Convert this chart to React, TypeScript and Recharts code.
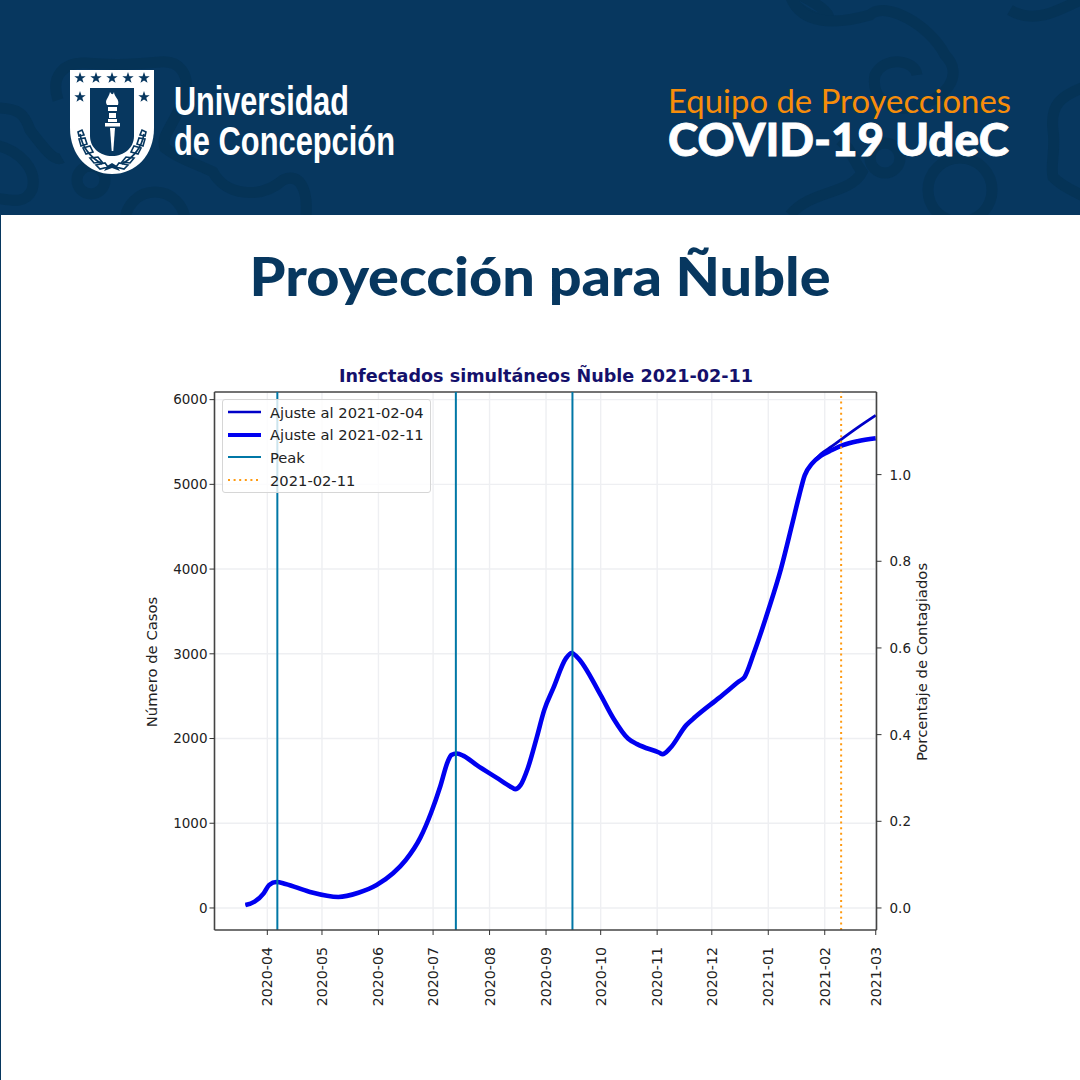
import {
  CartesianGrid,
  ComposedChart,
  Legend,
  Line,
  ReferenceLine,
  XAxis,
  YAxis,
} from 'recharts';

const NAVY = '#07375f';
const ORNAMENT = '#053356';
const FONT = '"DejaVu Sans", sans-serif';

const dates = [
  '2020-03-20', '2020-03-25', '2020-03-30', '2020-04-02', '2020-04-06', '2020-04-11',
  '2020-04-24', '2020-05-10', '2020-05-21', '2020-05-31', '2020-06-09', '2020-06-16',
  '2020-06-24', '2020-06-30', '2020-07-05', '2020-07-09', '2020-07-11', '2020-07-14',
  '2020-07-18', '2020-07-25', '2020-08-05', '2020-08-13', '2020-08-15', '2020-08-18',
  '2020-08-22', '2020-08-27', '2020-08-31', '2020-09-05', '2020-09-12', '2020-09-15',
  '2020-09-18', '2020-10-01', '2020-10-08', '2020-10-16', '2020-10-21', '2020-11-02',
  '2020-11-04', '2020-11-08', '2020-11-17', '2020-11-22', '2020-12-05', '2020-12-16',
  '2020-12-19', '2020-12-24', '2021-01-01', '2021-01-08', '2021-01-14', '2021-01-18',
  '2021-01-21', '2021-01-25', '2021-01-30', '2021-02-05', '2021-02-11', '2021-02-19',
  '2021-03-01',
];

const fit0204 = [
  35, 75, 173, 271, 306, 283,
  192, 130, 180, 271, 409, 566,
  830, 1130, 1440, 1725, 1805, 1824,
  1792, 1686, 1535, 1425, 1403, 1450,
  1650, 2020, 2335, 2594, 2948, 3010,
  2963, 2512, 2237, 2000, 1934, 1835,
  1816, 1883, 2158, 2256, 2480, 2675,
  2727, 3003, 3514, 4006, 4520, 4870,
  5106, 5244, 5360, 5450, 5546, 5670,
  5815,
];

const fit0211 = [
  35, 75, 173, 271, 306, 283,
  192, 130, 180, 271, 409, 566,
  830, 1130, 1440, 1725, 1805, 1824,
  1792, 1686, 1535, 1425, 1403, 1450,
  1650, 2020, 2335, 2594, 2948, 3010,
  2963, 2512, 2237, 2000, 1934, 1835,
  1816, 1883, 2158, 2256, 2480, 2675,
  2727, 3003, 3514, 4006, 4520, 4870,
  5106, 5244, 5338, 5405, 5463, 5510,
  5545,
];

const peakDates = ['2020-04-06T12:00Z', '2020-07-13T12:00Z', '2020-09-15T12:00Z'];
const cutLabel = '2021-02-11';
const cutDate = '2021-02-10';

const monthTicks = [
  '2020-04-01', '2020-05-01', '2020-06-01', '2020-07-01', '2020-08-01', '2020-09-01',
  '2020-10-01', '2020-11-01', '2020-12-01', '2021-01-01', '2021-02-01', '2021-03-01',
];
const caseTicks = [0, 1000, 2000, 3000, 4000, 5000, 6000];
const shareTicks = [0, 0.2, 0.4, 0.6, 0.8, 1];

const legendItems = [
  { label: 'Ajuste al 2021-02-04', color: '#0000c8', width: 2.5, dash: '' },
  { label: 'Ajuste al 2021-02-11', color: '#0000f0', width: 4, dash: '' },
  { label: 'Peak', color: '#0077a6', width: 2, dash: '' },
  { label: cutLabel, color: '#ff9a10', width: 2, dash: '2 3.6' },
];

const casesPerUnit = 5115;
const caseMin = -260;
const caseMax = 6090;

const toTime = (d: string) => Date.parse(d);

const table = dates.map((d, i) => ({
  time: toTime(d),
  fit0204: fit0204[i],
  fit0211: fit0211[i],
}));

const DateTick = ({ x, y, payload }: any) => (
  <text
    transform={`translate(${x + 5},${y + 10}) rotate(-90)`}
    textAnchor="end"
    fontFamily={FONT}
    fontSize={14.2}
    fill="#222"
  >
    {new Date(payload.value).toISOString().slice(0, 7)}
  </text>
);

const ShareTick = ({ x, y, payload }: any) => (
  <text x={x + 6} y={y + 5} fontFamily={FONT} fontSize={13.5} fill="#222">
    {payload.value.toFixed(1)}
  </text>
);

const ChartLegend = () => (
  <div
    style={{
      width: 209,
      height: 94,
      boxSizing: 'border-box',
      padding: '1px 0 0 5px',
      background: 'rgba(255,255,255,0.8)',
      border: '1px solid #d6d6d6',
      borderRadius: 3,
      fontFamily: FONT,
      fontSize: 14.7,
      color: '#222',
    }}
  >
    {legendItems.map((item) => (
      <div key={item.label} style={{ height: 22.6, display: 'flex', alignItems: 'center' }}>
        <svg width={42} height={10} style={{ flex: 'none' }}>
          <line
            x1={0}
            x2={33}
            y1={5}
            y2={5}
            stroke={item.color}
            strokeWidth={item.width}
            strokeDasharray={item.dash}
          />
        </svg>
        {item.label}
      </div>
    ))}
  </div>
);

const Star = ({ x, y }: { x: number; y: number }) => (
  <polygon
    transform={`translate(${x},${y}) scale(6)`}
    points="0,-1 0.24,-0.31 0.95,-0.31 0.38,0.12 0.59,0.81 0,0.4 -0.59,0.81 -0.38,0.12 -0.95,-0.31 -0.24,-0.31"
    fill={NAVY}
  />
);

const Leaves = () => (
  <g fill="none" stroke={NAVY} strokeWidth={1.6}>
    <path d="M78 132 l4 -2 l2 5 l-5 1 Z M79 139 l6 -1 l2 6 l-6 2 Z M83 148 l7 -2 l3 6 l-7 2 Z" />
    <path d="M80 134 C82 146 90 157 102 164" />
    <path d="M90 158 l8 -1 l4 5 l-8 1 Z M96 165 l9 -2 l3 4 l-8 2 Z" />
  </g>
);

const Shield = () => (
  <g>
    <path d="M70 70 H154 V128 C154 155 136 174 112 174 C88 174 70 155 70 128 Z" fill="#fff" />
    <path d="M90 88 H134 V136 C134 148 124 156 112 156 C100 156 90 148 90 136 Z" fill={NAVY} />
    {[80, 96, 112, 128, 144].map((x) => (
      <Star key={x} x={x} y={78} />
    ))}
    <Star x={80} y={97} />
    <Star x={144} y={97} />
    <path d="M107 105 C104 100 109 98 110 92 C112 95 113 95 114 92 C114 97 120 99 118 105 Z" fill="#fff" />
    <path d="M108 107 H117 V111 H108 Z M109 113 H116 V118 H109 Z M108 119 H117 V122 H108 Z" fill="#fff" />
    <rect x={105} y={123} width={15} height={3.5} fill="#fff" />
    <path d="M110 128 H115 L113.3 151 H111.7 Z" fill="#fff" />
    <Leaves />
    <g transform="translate(224,0) scale(-1,1)">
      <Leaves />
    </g>
    <path d="M107 166 L112 163 L117 166 L120 171 L112 168 L104 171 Z" fill={NAVY} />
  </g>
);

const Banner = () => (
  <svg width={1080} height={215} style={{ position: 'absolute', left: 0, top: 0 }}>
    <rect width={1080} height={215} fill={NAVY} />
    <g fill="none" stroke={ORNAMENT} strokeWidth={11}>
      <path d="M-5 108 C20 108 25 115 30 130 C45 150 55 162 62 158 M-5 145 C20 150 38 170 32 190 C25 205 10 200 -5 198" />
      <circle cx={91} cy={180} r={14} />
      <circle cx={155} cy={222} r={30} />
      <path d="M58 100 C50 75 65 62 85 63 C110 65 125 65 160 62 C180 60 190 75 185 95 C175 125 160 135 165 148 C180 160 200 165 213 172 C225 195 260 200 283 180 C300 172 308 190 306 215" />
      <path d="M795 5 C825 30 850 20 800 -5" />
      <path d="M790 -5 C800 25 835 25 870 15 C885 0 930 25 945 55 C965 75 945 100 917 105 C895 115 870 100 875 75 C885 55 915 60 917 75" />
      <circle cx={885} cy={158} r={15} />
      <circle cx={960} cy={190} r={32} />
      <path d="M1010 10 C1035 25 1060 10 1090 -5" />
      <path d="M1090 85 C1060 95 1050 105 1053 130 C1056 150 1050 165 1053 177 C1065 190 1085 195 1090 200" />
      <path d="M790 215 C810 190 850 195 862 172 C850 155 852 150 840 140" />
    </g>
    <Shield />
    <g fontFamily='"Liberation Sans", sans-serif' fontWeight={700} fill="#fff" fontSize={41}>
      <text x={174} y={115} textLength={175} lengthAdjust="spacingAndGlyphs">Universidad</text>
      <text x={174} y={155} textLength={221} lengthAdjust="spacingAndGlyphs">de Concepción</text>
    </g>
    <text x={668} y={113} fontFamily="Lato, sans-serif" fontWeight={400} fontSize={32} fill="#f78d0a" textLength={343} lengthAdjust="spacingAndGlyphs">
      Equipo de Proyecciones
    </text>
    <text x={668} y={156} fontFamily="Lato, sans-serif" fontWeight={900} fontSize={46} fill="#fff" stroke="#fff" strokeWidth={0.8} textLength={341} lengthAdjust="spacingAndGlyphs">
      COVID-19 UdeC
    </text>
  </svg>
);

export default function App() {
  return (
    <div style={{ position: 'absolute', left: 0, top: 0, width: 1080, height: 1080, background: '#fff', overflow: 'hidden' }}>
      <Banner />
      <div style={{ position: 'absolute', left: 0, top: 215, width: 1, height: 865, background: NAVY }} />
      <div style={{ position: 'absolute', left: 0, top: 0 }}>
        <ComposedChart
          width={1080}
          height={1080}
          data={table}
          margin={{ top: 392, left: 144.5, right: 133.5, bottom: 60 }}
        >
          <text x={540} y={296} textAnchor="middle" fontFamily="Lato, sans-serif" fontWeight={900} fontSize={54} fill={NAVY} textLength={581} lengthAdjust="spacingAndGlyphs">
            Proyección para Ñuble
          </text>
          <text x={546} y={382} textAnchor="middle" fontFamily={FONT} fontWeight={700} fontSize={17.6} fill="#14106b">
            Infectados simultáneos Ñuble 2021-02-11
          </text>
          <text transform="translate(157,662) rotate(-90)" textAnchor="middle" fontFamily={FONT} fontSize={14.8} fill="#222">
            Número de Casos
          </text>
          <text transform="translate(927,662) rotate(-90)" textAnchor="middle" fontFamily={FONT} fontSize={14.8} fill="#222">
            Porcentaje de Contagiados
          </text>
          <CartesianGrid yAxisId="left" stroke="#eeeff2" strokeWidth={1.4} syncWithTicks />
          <XAxis
            dataKey="time"
            type="number"
            scale="linear"
            domain={[toTime('2020-03-03'), toTime('2021-03-01') + 36000000]}
            allowDataOverflow
            ticks={monthTicks.map(toTime)}
            interval={0}
            height={90}
            tick={<DateTick />}
            tickLine={{ stroke: '#333' }}
            axisLine={{ stroke: '#444', strokeWidth: 1.6 }}
            tickSize={5}
          />
          <YAxis
            yAxisId="left"
            width={70}
            domain={[caseMin, caseMax]}
            allowDataOverflow
            ticks={caseTicks}
            interval={0}
            tick={{ fontFamily: FONT, fontSize: 13.5, fill: '#222' }}
            tickLine={{ stroke: '#333' }}
            axisLine={{ stroke: '#444', strokeWidth: 1.6 }}
            tickSize={5}
          />
          <YAxis
            yAxisId="right"
            orientation="right"
            width={70}
            domain={[caseMin / casesPerUnit, caseMax / casesPerUnit]}
            allowDataOverflow
            ticks={shareTicks}
            interval={0}
            tick={<ShareTick />}
            tickLine={{ stroke: '#333' }}
            axisLine={{ stroke: '#444', strokeWidth: 1.6 }}
            tickSize={5}
          />
          <ReferenceLine yAxisId="left" y={caseMax} stroke="#444" strokeWidth={1.6} />
          <Line yAxisId="left" dataKey="fit0204" name="Ajuste al 2021-02-04" type="monotone" stroke="#0000c8" strokeWidth={2.8} dot={false} isAnimationActive={false} />
          <Line yAxisId="left" dataKey="fit0211" name="Ajuste al 2021-02-11" type="monotone" stroke="#0000f0" strokeWidth={4.6} dot={false} isAnimationActive={false} />
          {peakDates.map((d) => (
            <ReferenceLine key={d} yAxisId="left" x={toTime(d)} stroke="#0077a6" strokeWidth={2} />
          ))}
          <ReferenceLine yAxisId="left" x={toTime(cutDate)} stroke="#ff9a10" strokeWidth={2} strokeDasharray="2 3.6" />
          <Legend
            layout="horizontal"
            verticalAlign="middle"
            content={<ChartLegend />}
            wrapperStyle={{ left: 222, top: 399, width: 209, height: 94 }}
          />
        </ComposedChart>
      </div>
    </div>
  );
}
